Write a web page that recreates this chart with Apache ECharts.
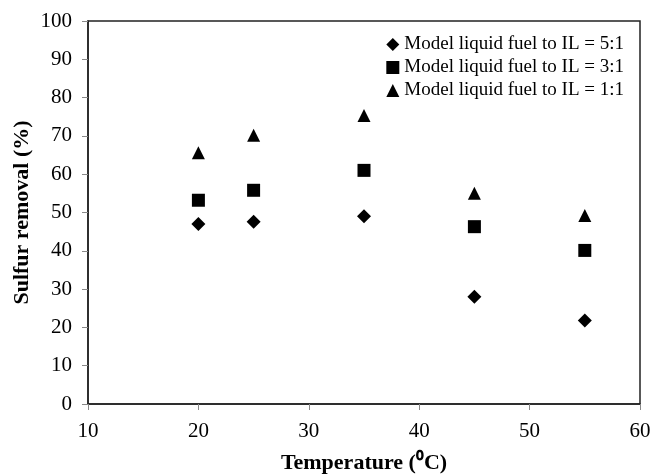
<!DOCTYPE html>
<html>
<head>
<meta charset="utf-8">
<script src="https://cdn.jsdelivr.net/npm/echarts@6/dist/echarts.min.js"></script>
<style>
    html, body { margin: 0; padding: 0; background: #fff; }
    #chart { width: 652px; height: 474px; }
</style>
</head>
<body>
<div id="chart"></div>
<script>
    // temperatures (°C)
    const temperatures = [20, 25, 35, 45, 55];
    // sulfur removal (%) per fuel : IL ratio
    const ratio51 = [47, 47.6, 49, 28, 21.8];
    const ratio31 = [53.2, 55.8, 61, 46.3, 40.1];
    const ratio11 = [65.6, 70.2, 75.3, 55, 49.2];
    const seriesNames = [
        'Model liquid fuel to IL = 5:1',
        'Model liquid fuel to IL = 3:1',
        'Model liquid fuel to IL = 1:1'
    ];

    const font = 'Liberation Serif, Times New Roman, serif';

    function pairs(values) {
        return temperatures.map((t, i) => [t, values[i]]);
    }

    let myChart = echarts.init(document.getElementById('chart'));
    myChart.setOption({
        animation: false,
        grid: {
            left: 88,
            right: 12,
            top: 21,
            bottom: 70,
            outerBoundsMode: 'none',
            containLabel: false,
            show: true,
            borderColor: '#222',
            borderWidth: 1.5
        },
        legend: {
            orient: 'vertical',
            right: 23,
            top: 30,
            itemWidth: 13,
            itemHeight: 13,
            itemGap: 4,
            itemTextGap: 2,
            textStyle: {
                fontFamily: font,
                fontSize: 19,
                color: '#000'
            },
            data: [
                { name: seriesNames[0], icon: 'diamond' },
                { name: seriesNames[1], icon: 'rect' },
                { name: seriesNames[2], icon: 'triangle' }
            ]
        },
        xAxis: {
            type: 'value',
            min: 10,
            max: 60,
            interval: 10,
            name: 'Temperature (⁰C)',
            nameLocation: 'middle',
            nameGap: 48,
            nameTextStyle: {
                fontFamily: font,
                fontSize: 22,
                fontWeight: 'bold',
                color: '#000'
            },
            axisLine: { lineStyle: { color: '#222', width: 1.5 } },
            axisTick: { show: true, length: 6, lineStyle: { color: '#888' } },
            axisLabel: {
                fontFamily: font,
                fontSize: 21,
                color: '#000',
                margin: 17
            },
            splitLine: { show: false }
        },
        yAxis: {
            type: 'value',
            min: 0,
            max: 100,
            interval: 10,
            name: 'Sulfur removal (%)',
            nameLocation: 'middle',
            nameGap: 55,
            nameMoveOverlap: false,
            nameTextStyle: {
                fontFamily: font,
                fontSize: 22,
                fontWeight: 'bold',
                color: '#000'
            },
            axisLine: { show: true, lineStyle: { color: '#222', width: 1.5 } },
            axisTick: { show: true, length: 6, lineStyle: { color: '#888' } },
            axisLabel: {
                fontFamily: font,
                fontSize: 21,
                color: '#000',
                margin: 16
            },
            splitLine: { show: false }
        },
        series: [
            {
                name: seriesNames[0],
                type: 'scatter',
                symbol: 'diamond',
                symbolSize: 14,
                itemStyle: { color: '#000', opacity: 1 },
                data: pairs(ratio51)
            },
            {
                name: seriesNames[1],
                type: 'scatter',
                symbol: 'rect',
                symbolSize: 13,
                itemStyle: { color: '#000', opacity: 1 },
                data: pairs(ratio31)
            },
            {
                name: seriesNames[2],
                type: 'scatter',
                symbol: 'triangle',
                symbolSize: 13,
                itemStyle: { color: '#000', opacity: 1 },
                data: pairs(ratio11)
            }
        ]
    });
</script>
</body>
</html>
